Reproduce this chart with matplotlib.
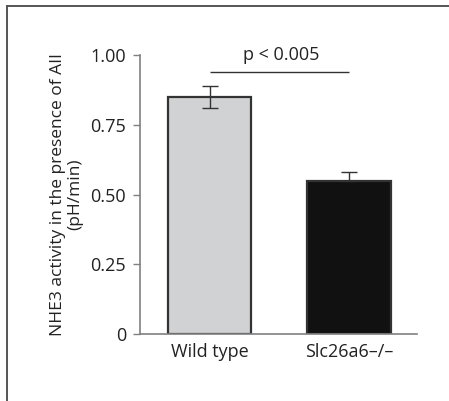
import matplotlib

matplotlib.use("Agg")
matplotlib.rcParams.update({
    "font.family": ["Open Sans", "DejaVu Sans"],
    "font.size": 13,
})

import matplotlib.pyplot as plt
from matplotlib.lines import Line2D

groups = ["Wild type", "Slc26a6\u2013/\u2013"]
activity = [0.85, 0.55]
err_up = [0.04, 0.03]
err_down = [0.04, 0.0]
yticks = [0, 0.25, 0.50, 0.75, 1.00]
ytick_labels = ["0", "0.25", "0.50", "0.75", "1.00"]
p_label = "p < 0.005"
p_level = 0.94

W, H = 449, 401
fig = plt.figure(figsize=(W / 100, H / 100), dpi=100)
ax = fig.add_axes([140 / W, 1 - 334.3 / H, 277 / W, (334.3 - 55) / H])

x = range(len(groups))
ax.bar(x, activity, width=0.6, color=["#d1d2d4", "#111111"],
       edgecolor="#333333", linewidth=1.6, zorder=2)
ax.errorbar(x, activity, yerr=[err_down, err_up], fmt="none",
            ecolor="#333333", elinewidth=1.0, capsize=5.5, capthick=1.0,
            zorder=3)

ax.plot([0, 1], [p_level, p_level], color="#333333", lw=1.0,
        solid_capstyle="butt")
ax.text(0.515, 1.0, p_label, ha="center", va="center", fontsize=13,
        color="#222222")

ax.set_xlim(-0.5, 1.49)
ax.set_ylim(0, 1.0)
ax.set_xticks(list(x))
ax.set_xticklabels(groups)
ax.set_yticks(yticks)
ax.set_yticklabels(ytick_labels)
ax.tick_params(axis="x", length=0, pad=6, labelsize=13, colors="#222222")
ax.tick_params(axis="y", length=5, width=1.0, color="#808080", pad=5,
               labelsize=13, labelcolor="#222222")
for s in ("top", "right"):
    ax.spines[s].set_visible(False)
for s in ("left", "bottom"):
    ax.spines[s].set_color("#808080")
    ax.spines[s].set_linewidth(1.2)
ax.set_ylabel("NHE3 activity in the presence of AII\n(pH/min)",
              fontsize=12.5, color="#222222", labelpad=5, linespacing=1.08)

# outer panel frame (left and top edges visible)
fig.add_artist(Line2D([7 / W, 7 / W], [0, 1 - 6 / H], color="#555555",
                      lw=1.4, transform=fig.transFigure))
fig.add_artist(Line2D([7 / W, 1], [1 - 6 / H, 1 - 6 / H], color="#555555",
                      lw=1.4, transform=fig.transFigure))

fig.savefig("out.png", dpi=100)
